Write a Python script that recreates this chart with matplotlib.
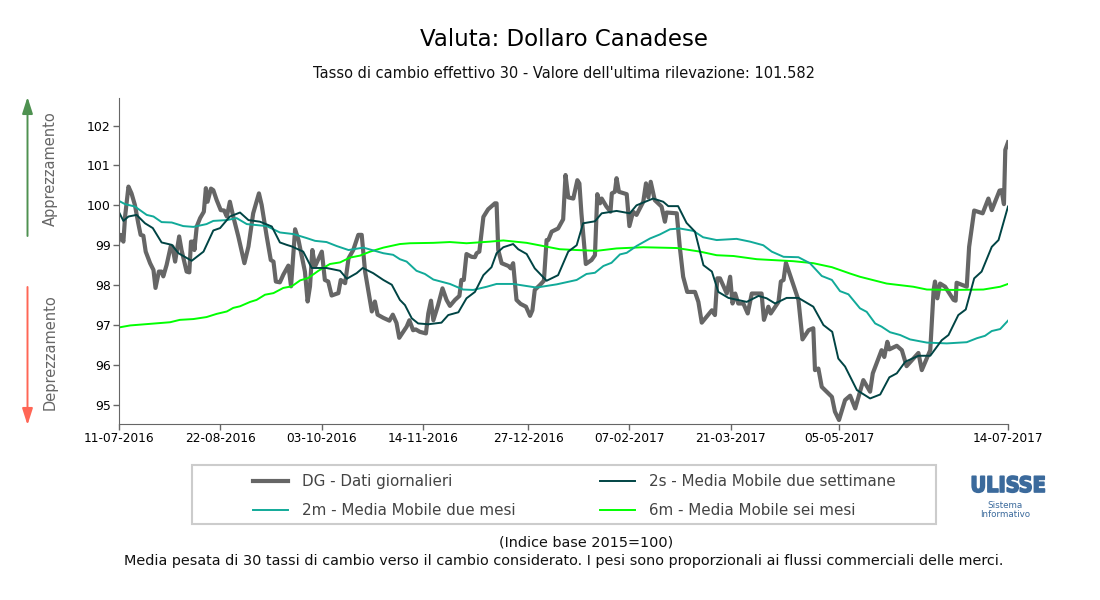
import matplotlib
matplotlib.use("Agg")
import matplotlib.pyplot as plt
import matplotlib.patheffects as pe
from matplotlib.patches import FancyArrowPatch

tick_pos = [0, 30, 60, 90, 121, 151, 181, 213, 263]
tick_labels = ["11-07-2016", "22-08-2016", "03-10-2016", "14-11-2016", "27-12-2016",
               "07-02-2017", "21-03-2017", "05-05-2017", "14-07-2017"]
y_ticks = [95, 96, 97, 98, 99, 100, 101, 102]

dg_x = [0,0.5,1.3,1.8,2.8,3.7,4.7,5.7,6.4,7.2,7.9,9.2,10.2,10.8,11.8,12.6,13.1,14.1,15.3,15.8,16.6,17.8,18.5,20,20.8,21.3,22.2,22.3,23,24,25.1,25.7,26.2,27.2,27.9,28.9,30.1,31.1,31.9,32.8,33.8,35.3,37.1,38.3,39.7,41.4,42.2,43.7,44.9,45.7,46.4,47.6,48.6,50.1,50.9,52.1,53.1,55,55.8,56.5,57.2,58,60,60.9,61.9,62.9,64.9,65.6,66.9,67.9,69.3,70.8,71.8,72.8,74.8,75.7,76.5,78.2,80,81,82.1,82.9,
85.1,85.9,87,87.8,89,90.8,91.5,92.3,93,94.4,95.7,96.9,97.9,99.4,100.7,101.3,102,102.8,104.3,105.3,105.8,106.6,107.8,109.2,111.2,111.7,112.2,113.2,115.2,115.9,116.6,117.6,118.8,120.4,121.6,122.3,123,124.5,125.7,126.5,127,128,129.9,131.4,132.1,132.9,134.4,135.6,136.2,136.8,138.1,139.8,140.8,141.5,142.3,142.8,144.2,145.4,145.8,146.7,147.2,147.9,150.2,151,152.1,153.1,155.1,155.9,156.6,157.3,158.5,160.5,161.5,162,165,165.9,166.9,168.1,170.4,171.4,172.4,
175.4,176.3,177,177.8,179.8,180.8,181.5,182.3,183.2,184.7,186,187.2,190.1,190.8,192.1,192.8,195.1,195.8,196.6,197.3,199,201,202.2,204,205.4,205.9,206.9,207.9,210.9,211.8,213,214.8,216.3,217.8,220.2,222.2,223,225.6,226.4,227.3,227.9,230.1,231.6,233,236.5,237.5,240,241,241.4,242.1,242.9,244.4,246.9,247.5,247.8,250.8,251.5,253,255.5,257.2,258.2,260.5,261.1,261.8,262.2,263]
dg_y = [99.13,99.26,99.09,99.72,100.47,100.30,100.01,99.55,99.26,99.24,98.84,98.55,98.38,97.93,98.34,98.34,98.22,98.51,98.97,98.97,98.59,99.22,98.88,98.34,98.32,99.09,99.09,98.88,99.47,99.68,99.84,100.43,100.09,100.42,100.38,100.13,99.88,99.87,99.72,100.09,99.72,99.22,98.55,98.97,99.8,100.3,100.01,99.22,98.63,98.59,98.09,98.07,98.26,98.49,97.97,99.4,99.13,98.34,97.59,97.97,98.88,98.47,98.84,98.13,98.09,97.74,97.8,98.13,98.05,98.67,98.88,99.26,99.26,98.34,97.34,97.59,97.26,97.18,97.11,97.26,97.05,96.68,
96.96,97.12,96.87,96.89,96.83,96.79,97.29,97.61,97.12,97.5,97.92,97.63,97.48,97.63,97.73,98.13,98.13,98.78,98.71,98.7,98.8,98.84,99.71,99.9,100.05,100.05,98.88,98.55,98.48,98.42,98.55,97.63,97.53,97.46,97.23,97.37,97.88,98,98.11,99.13,99.13,99.34,99.42,99.65,100.76,100.2,100.17,100.63,100.55,99.8,98.53,98.63,98.75,100.28,100.05,100.17,99.97,99.84,100.3,100.34,100.68,100.34,100.28,99.48,99.84,99.76,100.09,100.55,100.2,100.59,100.13,99.97,99.59,99.82,99.8,98.96,98.21,97.83,97.83,97.58,97.06,
97.37,97.25,98.17,98.17,97.79,98.21,97.54,97.79,97.54,97.54,97.29,97.79,97.79,97.13,97.46,97.29,97.58,98.09,98.13,98.56,98.13,97.63,96.64,96.87,96.92,95.87,95.91,95.45,95.2,94.83,94.62,95.12,95.23,94.91,95.62,95.33,95.79,96.37,96.2,96.58,96.39,96.48,96.37,95.97,96.3,95.87,96.37,97.88,98.09,97.67,98.04,97.96,97.63,97.61,98.06,97.96,98.96,99.87,99.8,100.17,99.88,100.37,100.38,100.03,101.39,101.58]

s2_x = [0,1.3,2.8,5.2,7.7,10,12.6,15.6,17.6,21.5,25,27.9,29.9,32.8,35.8,38.3,41.7,45.2,47.6,49.6,51.1,54.5,57,61.4,65.4,67.4,70.3,72.1,75.2,78.2,80.7,83.1,84.6,86.6,88.5,91.5,95.4,97.4,100.4,102.8,105.3,107.8,110.2,111.7,113.7,116.6,118.1,120.6,123,126.5,129.9,132.9,135.4,137.3,140.8,142.8,147.2,151.1,153.1,158,161,162.5,165.4,167.9,170.4,172.9,175.4,177.3,180.3,185.7,189.2,191.6,194.1,197.5,201,205.4,208.4,211,212.8,214.8,218.3,222.2,225.2,227.9,230.1,232.6,236.5,240,243.4,245.4,248.3,250.5,253,255.2,258.2,260.2,263]
s2_y = [99.83,99.61,99.72,99.76,99.55,99.43,99.07,99.01,98.8,98.61,98.84,99.37,99.43,99.72,99.82,99.63,99.59,99.47,99.07,99.01,98.97,98.84,98.43,98.43,98.36,98.16,98.3,98.43,98.3,98.13,98.01,97.63,97.5,97.17,97.04,97.02,97.06,97.25,97.32,97.67,97.83,98.25,98.45,98.8,98.95,99.03,98.9,98.78,98.42,98.11,98.25,98.84,99.0,99.55,99.6,99.8,99.86,99.8,100.0,100.17,100.09,99.98,99.98,99.56,99.34,98.5,98.34,97.83,97.68,97.58,97.73,97.67,97.54,97.68,97.68,97.46,97,96.83,96.16,95.96,95.37,95.16,95.26,95.69,95.79,96.08,96.23,96.23,96.62,96.75,97.25,97.39,98.17,98.34,98.96,99.13,99.97]

m2_x = [0,1.8,4.7,8.2,10.2,12.6,15.6,19,22,25.9,27.9,31.9,34.8,37.8,43.7,47.6,51.6,55.5,58,61.4,64.4,67.9,72.3,78.2,81.1,83.1,85.1,88,90.5,93,97.9,101.8,104.8,108.8,111.7,116.6,123.5,129.5,135.4,138.3,140.8,143.3,145.7,148.2,150.2,153.1,157.1,160,163,165.9,169.9,172.8,176.8,182.7,186.7,190.6,193.1,196.6,201,204.4,207.9,210.9,213.3,215.8,219.2,221.2,223.7,225.6,228.1,231.1,234,239,244.9,250.8,253.8,256.2,258.2,260.7,263]
m2_y = [100.11,100.03,99.97,99.76,99.72,99.58,99.57,99.48,99.46,99.53,99.61,99.63,99.68,99.53,99.48,99.32,99.28,99.18,99.11,99.08,98.98,98.88,98.94,98.8,98.76,98.65,98.59,98.36,98.28,98.14,98.03,97.89,97.88,97.96,98.03,98.03,97.94,98.02,98.13,98.28,98.31,98.48,98.56,98.77,98.81,98.98,99.17,99.27,99.4,99.42,99.36,99.2,99.13,99.16,99.09,99,98.84,98.71,98.7,98.55,98.23,98.13,97.85,97.77,97.42,97.33,97.04,96.96,96.82,96.75,96.64,96.56,96.54,96.57,96.67,96.73,96.85,96.9,97.11]

m6_x = [0,3.3,9.2,15.1,18,22,25.9,28.9,31.9,33.8,35.8,38.8,40.7,43.2,45.7,48.6,51.1,53.6,56,59,62.4,65.4,68.3,71.3,74.3,78.2,83.1,86.1,93,97.9,102.8,109.7,113.7,120.6,125.5,130.4,135.4,141.3,147.2,155.1,165,171.9,176.8,181.8,188.7,199.5,205.4,210.9,216.3,219.2,227.1,235,239,246.9,255.7,260.7,263]
m6_y = [96.94,96.99,97.03,97.07,97.13,97.15,97.2,97.28,97.34,97.43,97.47,97.58,97.63,97.76,97.8,97.93,97.97,98.12,98.18,98.36,98.53,98.57,98.69,98.74,98.84,98.94,99.03,99.05,99.06,99.08,99.05,99.09,99.12,99.06,98.98,98.9,98.88,98.86,98.92,98.95,98.93,98.84,98.75,98.73,98.65,98.6,98.55,98.45,98.29,98.21,98.04,97.96,97.89,97.88,97.89,97.96,98.03]

GREY = "#666666"
plt.rcParams["font.family"] = "DejaVu Sans"
W, H = 1100, 600
fig = plt.figure(figsize=(11, 6), dpi=100)
ax = fig.add_axes([119/W, 1-424/H, (1008-119)/W, (424-98)/H])

l_dg, = ax.plot(dg_x, dg_y, color="#666666", lw=3.0, solid_joinstyle="round", label="DG - Dati giornalieri")
l_m6, = ax.plot(m6_x, m6_y, color="#00FF00", lw=1.4, label="6m - Media Mobile sei mesi")
l_m2, = ax.plot(m2_x, m2_y, color="#11AA99", lw=1.4, label="2m - Media Mobile due mesi")
l_s2, = ax.plot(s2_x, s2_y, color="#004444", lw=1.4, label="2s - Media Mobile due settimane")

ax.set_xlim(0, 263)
ax.set_ylim(94.52, 102.69)
ax.set_xticks(tick_pos)
ax.set_xticklabels(tick_labels, fontsize=8.7, color="black")
ax.set_yticks(y_ticks)
ax.set_yticklabels([str(v) for v in y_ticks], fontsize=9, color="black")
ax.tick_params(axis="both", length=4, width=1, color=GREY, pad=2)
ax.spines["top"].set_visible(False)
ax.spines["right"].set_visible(False)
ax.spines["left"].set_color(GREY)
ax.spines["bottom"].set_color(GREY)

def ft(x, y, s, **kw):
    kw.setdefault("ha", "center")
    kw.setdefault("va", "center")
    return fig.text(x/W, 1-y/H, s, **kw)

ft(564, 40, "Valuta: Dollaro Canadese", fontsize=16.5, color="black")
ft(564, 74, "Tasso di cambio effettivo 30 - Valore dell'ultima rilevazione: 101.582", fontsize=10.5, color="#111111")
ft(586, 542, "(Indice base 2015=100)", fontsize=10.35, color="#111111")
ft(564, 561, "Media pesata di 30 tassi di cambio verso il cambio considerato. I pesi sono proporzionali ai flussi commerciali delle merci.",
   fontsize=10.35, color="#111111")
ft(50, 169, "Apprezzamento", fontsize=10.5, color=GREY, rotation=90)
ft(50, 352, "Deprezzamento", fontsize=10.5, color=GREY, rotation=90)

fig.add_artist(FancyArrowPatch((27.5/W, 1-236/H), (27.5/W, 1-97/H), transform=fig.transFigure,
                               arrowstyle="-|>,head_length=10,head_width=3.2", mutation_scale=1,
                               color="#4E9150", lw=1.4, shrinkA=0, shrinkB=0))
fig.add_artist(FancyArrowPatch((27.5/W, 1-287/H), (27.5/W, 1-425/H), transform=fig.transFigure,
                               arrowstyle="-|>,head_length=10,head_width=3.2", mutation_scale=1,
                               color="#FF6655", lw=1.4, shrinkA=0, shrinkB=0))

leg = fig.legend(handles=[l_dg, l_m2, l_s2, l_m6], ncol=2, loc="center left",
                 bbox_to_anchor=(253/W, 1-496/H),
                 fontsize=10.9, frameon=False,
                 handlelength=2.3, handletextpad=0.93, labelspacing=0.92, borderpad=0.0,
                 borderaxespad=0, columnspacing=5.56, labelcolor="#444444")
fig.add_artist(plt.Rectangle((192/W, 1-524/H), (936-192)/W, 59/H, transform=fig.transFigure,
                             facecolor="none", edgecolor="#CCCCCC", lw=1.5))

ft(1008, 486, "ULISSE", fontsize=15.5, fontweight="bold", color="#3B6A9C", stretch="condensed",
   path_effects=[pe.withStroke(linewidth=1.2, foreground="#3B6A9C")])
ft(1005, 505, "Sistema", fontsize=6.3, color="#3B6A9C")
ft(1005, 514.5, "Informativo", fontsize=6.3, color="#3B6A9C")

fig.savefig("out.png", dpi=100)
